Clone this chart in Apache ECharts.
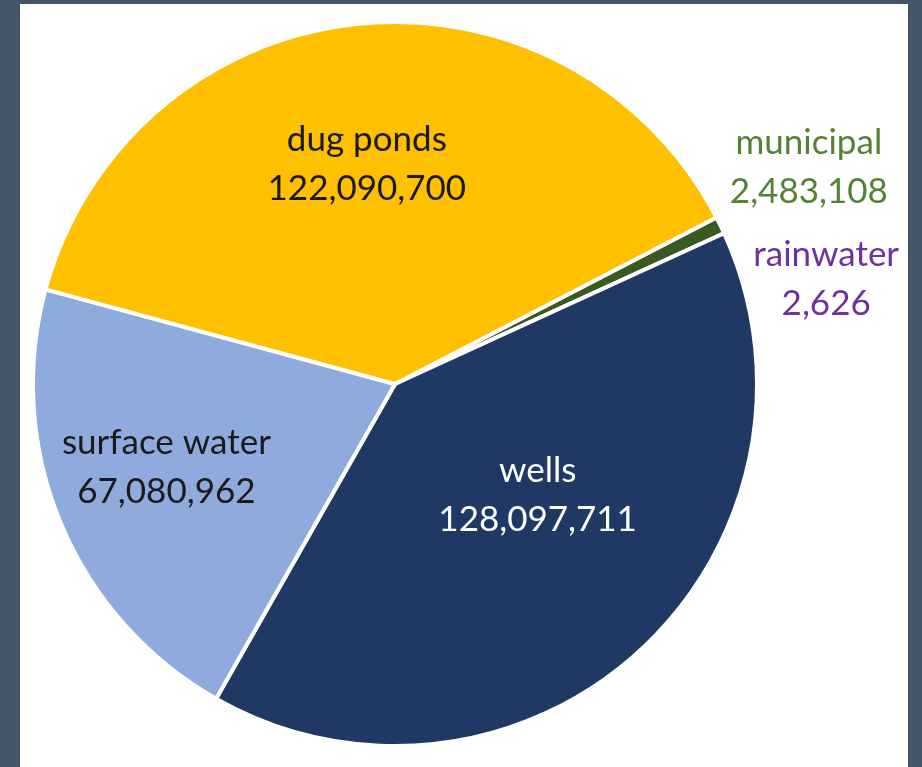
<!DOCTYPE html>
<html>
<head>
<meta charset="utf-8">
<script src="https://cdn.jsdelivr.net/npm/echarts@6/dist/echarts.min.js"></script>
<style>
  html, body { margin: 0; padding: 0; background: #44546a; width: 922px; height: 767px; overflow: hidden; }
  #panel { position: absolute; left: 20px; top: 4px; width: 888px; height: 763px; background: #ffffff; }
  #chart { width: 888px; height: 763px; }
</style>
</head>
<body>
<div id="panel"><div id="chart"></div></div>
<script>
// Water sources and their volumes, listed clockwise from the municipal slice
const sources = ['municipal', 'rainwater', 'wells', 'surface water', 'dug ponds'];
const volumes = [2483108, 2626, 128097711, 67080962, 122090700];

const sliceColors = ['#3a5a22', '#7030a0', '#203864', '#8faadc', '#ffc000'];
const labelColors = ['#548235', '#7030a0', '#ffffff', '#1a1a1a', '#1a1a1a'];
// label anchor: [degrees clockwise from 12 o'clock, distance as a fraction of the radius]
const labelSpots = [[62.4, 1.29], [76.3, 1.226], [128.0, 0.5], [250.0, 0.672], [352.7, 0.612]];

const CX = 375, CY = 380, R = 362;

const chart = echarts.init(document.getElementById('chart'), null, { renderer: 'canvas' });

const fmt = v => v.toString().replace(/\B(?=(\d{3})+(?!\d))/g, ',');

chart.setOption({
  animation: false,
  series: [{
    type: 'pie',
    center: [CX, CY],
    radius: [0, R],
    startAngle: 90 - 62.6,
    clockwise: true,
    avoidLabelOverlap: false,
    itemStyle: { borderColor: '#ffffff', borderWidth: 4 },
    labelLine: { show: false },
    label: {
      show: true,
      position: 'inside',
      fontFamily: 'Lato',
      fontSize: 35,
      lineHeight: 49,
      align: 'center',
      formatter: p => p.name + '\n' + fmt(p.value)
    },
    labelLayout: p => {
      const s = labelSpots[p.dataIndex];
      const a = s[0] * Math.PI / 180;
      return {
        x: CX + Math.sin(a) * s[1] * R,
        y: CY - Math.cos(a) * s[1] * R,
        align: 'center',
        verticalAlign: 'middle'
      };
    },
    data: sources.map((name, i) => ({
      name: name,
      value: volumes[i],
      itemStyle: { color: sliceColors[i] },
      label: { color: labelColors[i], position: i < 2 ? 'outside' : 'inside' }
    }))
  }]
});
</script>
</body>
</html>
